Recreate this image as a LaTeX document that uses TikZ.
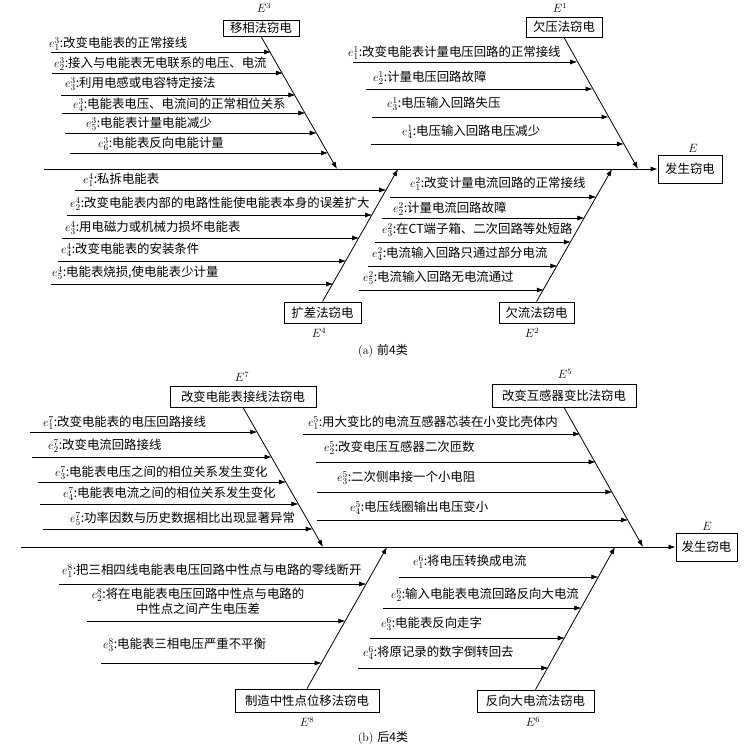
\documentclass[tikz,border=0pt]{standalone}
\usepackage{fontspec}
\newfontfamily\cjk{Noto Sans CJK SC}
\usetikzlibrary{arrows.meta}
\tikzset{
  catbox/.style={draw, line width=0.9pt, inner sep=0pt, font=\cjk\fontsize{12.4}{15}\selectfont},
  elab/.style={anchor=base west, inner sep=0pt, font=\cjk\fontsize{12.4}{15}\selectfont},
  Elab/.style={inner sep=0pt, font=\fontsize{12}{14}\selectfont},
  caplab/.style={inner sep=0pt, font=\fontsize{12}{14}\selectfont},
  subarr/.style={line width=0.6pt, -{Latex[length=7pt,width=5pt]}},
  bonearr/.style={line width=0.8pt, -{Latex[length=7pt,width=5pt]}},
  spinearr/.style={line width=0.8pt, -{Latex[length=7pt,width=5pt]}},
}
\begin{document}
\begin{tikzpicture}[x=1pt,y=-1pt]
\useasboundingbox (0,0) rectangle (754,747);
\fill[white] (0,0) rectangle (754,747);

% ================= (a) =================
\node[catbox, minimum width=64pt, minimum height=28pt] (Ha) at (690,169) {发生窃电};
\node[Elab] (Hal) at (693,148) {$E$};
\coordinate (Sa) at (44,169);
\draw[spinearr] (Sa) -- (Ha.west);

% E3
\node[catbox, minimum width=76pt, minimum height=16pt] (E3) at (261,28) {移相法窃电};
\node[Elab] (E3l) at (264,8) {$E^3$};
\coordinate (T3) at (337,169);
\draw[bonearr] (E3.south) -- (T3);
\coordinate (a3s1) at (51,52);   \coordinate (a3t1) at (271.0,52);
\coordinate (a3s2) at (52,73);   \coordinate (a3t2) at (282.9,73);
\coordinate (a3s3) at (61,95);   \coordinate (a3t3) at (295.3,95);
\coordinate (a3s4) at (62,113);  \coordinate (a3t4) at (305.4,113);
\coordinate (a3s5) at (65,133);  \coordinate (a3t5) at (316.7,133);
\coordinate (a3s6) at (70,153);  \coordinate (a3t6) at (328.0,153);
\foreach \i in {1,...,6}{\draw[subarr] (a3s\i) -- (a3t\i);}
\node[elab] (a3l1) at (49,47.5)  {$e^3_1$:改变电能表的正常接线};
\node[elab] (a3l2) at (54,67.5)  {$e^3_2$:接入与电能表无电联系的电压、电流};
\node[elab] (a3l3) at (65,87.5)  {$e^3_3$:利用电感或电容特定接法};
\node[elab] (a3l4) at (73,108.5) {$e^3_4$:电能表电压、电流间的正常相位关系};
\node[elab] (a3l5) at (86,127.5) {$e^3_5$:电能表计量电能减少};
\node[elab] (a3l6) at (98,147.5) {$e^3_6$:电能表反向电能计量};

% E1
\node[catbox, minimum width=76pt, minimum height=20pt] (E1) at (564,27) {欠压法窃电};
\node[Elab] (E1l) at (560,8) {$E^1$};
\coordinate (T1) at (638,169);
\draw[bonearr] (E1.south) -- (T1);
\coordinate (a1s1) at (353,62);  \coordinate (a1t1) at (577.2,62);
\coordinate (a1s2) at (366,89);  \coordinate (a1t2) at (592.5,89);
\coordinate (a1s3) at (372,117); \coordinate (a1t3) at (608.5,117);
\coordinate (a1s4) at (371,144); \coordinate (a1t4) at (623.8,144);
\foreach \i in {1,...,4}{\draw[subarr] (a1s\i) -- (a1t\i);}
\node[elab] (a1l1) at (348,56.5)  {$e^1_1$:改变电能表计量电压回路的正常接线};
\node[elab] (a1l2) at (373,81.5)  {$e^1_2$:计量电压回路故障};
\node[elab] (a1l3) at (387,107.5) {$e^1_3$:电压输入回路失压};
\node[elab] (a1l4) at (402,135.5) {$e^1_4$:电压输入回路电压减少};

% E4
\node[catbox, minimum width=77pt, minimum height=21pt] (E4) at (322.5,312.5) {扩差法窃电};
\node[Elab] (E4l) at (319,333) {$E^4$};
\coordinate (T4) at (398,169);
\draw[bonearr] (E4.north) -- (T4);
\coordinate (a4s1) at (75,190);  \coordinate (a4t1) at (386.2,190);
\coordinate (a4s2) at (67,215);  \coordinate (a4t2) at (372.1,215);
\coordinate (a4s3) at (62,238);  \coordinate (a4t3) at (359.1,238);
\coordinate (a4s4) at (58,261);  \coordinate (a4t4) at (346.1,261);
\coordinate (a4s5) at (51,284);  \coordinate (a4t5) at (333.2,284);
\foreach \i in {1,...,5}{\draw[subarr] (a4s\i) -- (a4t\i);}
\node[elab] (a4l1) at (83,183.5) {$e^4_1$:私拆电能表};
\node[elab] (a4l2) at (70,207.5) {$e^4_2$:改变电能表内部的电路性能使电能表本身的误差扩大};
\node[elab] (a4l3) at (65,231.5) {$e^4_3$:用电磁力或机械力损坏电能表};
\node[elab] (a4l4) at (61,253.5) {$e^4_4$:改变电能表的安装条件};
\node[elab] (a4l5) at (52,276.5) {$e^4_5$:电能表烧损,使电能表少计量};

% E2
\node[catbox, minimum width=75pt, minimum height=21pt] (E2) at (536.5,312.5) {欠流法窃电};
\node[Elab] (E2l) at (532,333) {$E^2$};
\coordinate (T2) at (612,169);
\draw[bonearr] (E2.north) -- (T2);
\coordinate (a2s1) at (390,197); \coordinate (a2t1) at (596.2,197);
\coordinate (a2s2) at (382,218); \coordinate (a2t2) at (584.4,218);
\coordinate (a2s3) at (375,242); \coordinate (a2t3) at (570.8,242);
\coordinate (a2s4) at (368,266); \coordinate (a2t4) at (557.3,266);
\coordinate (a2s5) at (359,290); \coordinate (a2t5) at (543.8,290);
\foreach \i in {1,...,5}{\draw[subarr] (a2s\i) -- (a2t\i);}
\node[elab] (a2l1) at (410,187.5) {$e^2_1$:改变计量电流回路的正常接线};
\node[elab] (a2l2) at (393,212.5) {$e^2_2$:计量电流回路故障};
\node[elab] (a2l3) at (382,233.5) {$e^2_3$:在CT端子箱、二次回路等处短路};
\node[elab] (a2l4) at (372,257.5) {$e^2_4$:电流输入回路只通过部分电流};
\node[elab] (a2l5) at (363,281.5) {$e^2_5$:电流输入回路无电流通过};

\node[caplab] (capa) at (383,351) {(a) {\cjk 前4类}};

% ================= (b) =================
\node[catbox, minimum width=61pt, minimum height=28pt] (Hb) at (706.5,547) {发生窃电};
\node[Elab] (Hbl) at (707,526) {$E$};
\coordinate (Sb) at (21,547);
\draw[spinearr] (Sb) -- (Hb.west);

% E7
\node[catbox, minimum width=146pt, minimum height=21pt] (E7) at (243,396.5) {改变电能表接线法窃电};
\node[Elab] (E7l) at (242,377) {$E^7$};
\coordinate (T7) at (323,547);
\draw[bonearr] (E7.south) -- (T7);
\coordinate (b7s1) at (30,432); \coordinate (b7t1) at (257.3,432);
\coordinate (b7s2) at (32,457); \coordinate (b7t2) at (271.6,457);
\coordinate (b7s3) at (38,482); \coordinate (b7t3) at (285.9,482);
\coordinate (b7s4) at (40,504); \coordinate (b7t4) at (298.4,504);
\coordinate (b7s5) at (43,529); \coordinate (b7t5) at (312.7,529);
\foreach \i in {1,...,5}{\draw[subarr] (b7s\i) -- (b7t\i);}
\node[elab] (b7l1) at (43,426.5) {$e^7_1$:改变电能表的电压回路接线};
\node[elab] (b7l2) at (48,449.5) {$e^7_2$:改变电流回路接线};
\node[elab] (b7l3) at (55,476.5) {$e^7_3$:电能表电压之间的相位关系发生变化};
\node[elab] (b7l4) at (63,497.5) {$e^7_4$:电能表电流之间的相位关系发生变化};
\node[elab] (b7l5) at (70,522.5) {$e^7_5$:功率因数与历史数据相比出现显著异常};

% E5
\node[catbox, minimum width=144pt, minimum height=23pt] (E5) at (564,395.5) {改变互感器变比法窃电};
\node[Elab] (E5l) at (565,374) {$E^5$};
\coordinate (T5) at (643,547);
\draw[bonearr] (E5.south) -- (T5);
\coordinate (b5s1) at (303,434); \coordinate (b5t1) at (580.0,434);
\coordinate (b5s2) at (316,462); \coordinate (b5t2) at (595.6,462);
\coordinate (b5s3) at (317,492); \coordinate (b5t3) at (612.4,492);
\coordinate (b5s4) at (317,520); \coordinate (b5t4) at (628.0,520);
\foreach \i in {1,...,4}{\draw[subarr] (b5s\i) -- (b5t\i);}
\node[elab] (b5l1) at (308,426.5) {$e^5_1$:用大变比的电流互感器芯装在小变比壳体内};
\node[elab] (b5l2) at (324,451.5) {$e^5_2$:改变电压互感器二次匝数};
\node[elab] (b5l3) at (337,481.5) {$e^5_3$:二次侧串接一个小电阻};
\node[elab] (b5l4) at (350,511.5) {$e^5_4$:电压线圈输出电压变小};

% E8
\node[catbox, minimum width=144pt, minimum height=23pt] (E8) at (307,700.5) {制造中性点位移法窃电};
\node[Elab] (E8l) at (307,722) {$E^8$};
\coordinate (T8) at (387,547);
\draw[bonearr] (E8.north) -- (T8);
\coordinate (b8s1) at (59,584);  \coordinate (b8t1) at (366.2,584);
\coordinate (b8s2) at (87,621);  \coordinate (b8t2) at (345.3,621);
\coordinate (b8s3) at (101,663); \coordinate (b8t3) at (321.6,663);
\foreach \i in {1,...,3}{\draw[subarr] (b8s\i) -- (b8t\i);}
\node[elab] (b8l1) at (62,574.5) {$e^8_1$:把三相四线电能表电压回路中性点与电路的零线断开};
\node[elab, anchor=center, align=center, font=\cjk\fontsize{12.4}{15}\selectfont] (b8l2) at (198,601.5) {$e^8_2$:将在电能表电压回路中性点与电路的\\中性点之间产生电压差};
\node[elab] (b8l3) at (103,648.5) {$e^8_3$:电能表三相电压严重不平衡};

% E6
\node[catbox, minimum width=117pt, minimum height=22pt] (E6) at (535.5,701) {反向大电流法窃电};
\node[Elab] (E6l) at (533,722) {$E^6$};
\coordinate (T6) at (615,547);
\draw[bonearr] (E6.north) -- (T6);
\coordinate (b6s1) at (399,577); \coordinate (b6t1) at (598.4,577);
\coordinate (b6s2) at (383,608); \coordinate (b6t2) at (581.3,608);
\coordinate (b6s3) at (370,638); \coordinate (b6t3) at (564.7,638);
\coordinate (b6s4) at (358,668); \coordinate (b6t4) at (548.2,668);
\foreach \i in {1,...,4}{\draw[subarr] (b6s\i) -- (b6t\i);}
\node[elab] (b6l1) at (413,565.5) {$e^6_1$:将电压转换成电流};
\node[elab] (b6l2) at (391,598.5) {$e^6_2$:输入电能表电流回路反向大电流};
\node[elab] (b6l3) at (381,627.5) {$e^6_3$:电能表反向走字};
\node[elab] (b6l4) at (363,656.5) {$e^6_4$:将原记录的数字倒转回去};

\node[caplab] (capb) at (383,738) {(b) {\cjk 后4类}};
\end{tikzpicture}
\end{document}
